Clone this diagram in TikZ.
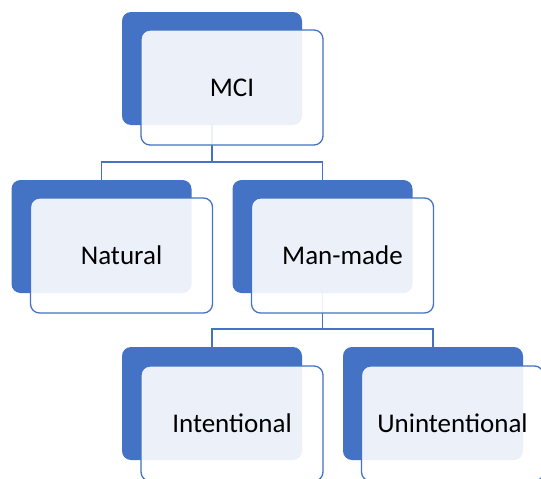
\documentclass[tikz,border=0pt]{standalone}
\usepackage{fontspec}
\setmainfont{Carlito}
\definecolor{accent}{HTML}{4472C4}
\tikzset{
  backbox/.style={rectangle, rounded corners=9pt, fill=accent, draw=none,
    minimum width=180pt, minimum height=113pt, inner sep=0pt},
  frontbox/.style={rectangle, rounded corners=9pt, draw=accent, line width=1.3pt,
    fill=white, fill opacity=0.9, text opacity=1, text=black,
    minimum width=182pt, minimum height=115pt, inner sep=0pt,
    font=\fontsize{27}{32}\selectfont},
  link/.style={draw=accent, line width=1.8pt}
}
\begin{document}
\begin{tikzpicture}[x=1pt,y=-1pt]
\useasboundingbox (0,0) rectangle (541,479);
\clip (0,0) rectangle (541,479);
% back boxes
\node[backbox] (mciB) at (212,68.5) {};
\node[backbox] (natB) at (101.5,236.5) {};
\node[backbox] (manB) at (322.5,236.5) {};
\node[backbox] (intB) at (212,403.5) {};
\node[backbox] (uniB) at (433,403.5) {};
% connectors
\coordinate (j1) at (212,162);
\coordinate (j2) at (322.5,329);
\draw[link] (mciB.south) -- (mciB.south |- j1);
\draw[link] (natB.north) |- (j1) -| (manB.north);
\draw[link] (manB.south) -- (manB.south |- j2);
\draw[link] (intB.north) |- (j2) -| (uniB.north);
% front boxes
\node[frontbox] (mci) at (232,87.5) {MCI};
\node[frontbox] (nat) at (121.5,255.5) {Natural};
\node[frontbox] (man) at (342.5,255.5) {Man-made};
\node[frontbox] (int) at (232,423.5) {Intentional};
\node[frontbox] (uni) at (452.5,423.5) {Unintentional};
\end{tikzpicture}
\end{document}
